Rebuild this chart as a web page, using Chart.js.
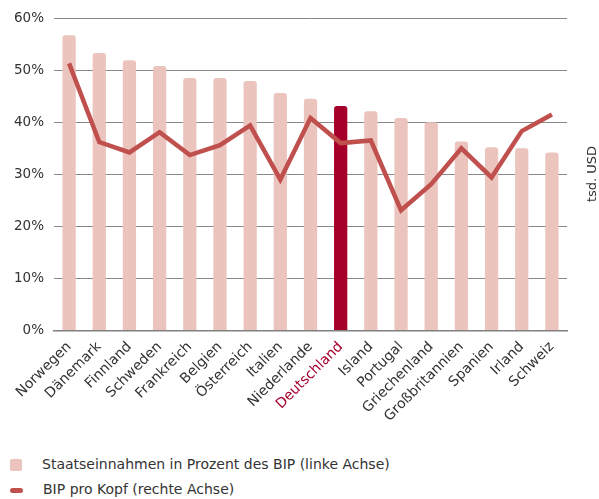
<!DOCTYPE html>
<html>
<head>
<meta charset="utf-8">
<script src="https://cdn.jsdelivr.net/npm/chart.js@4.4.1/dist/chart.umd.min.js"></script>
<style>
  body { margin: 0; background: #fff; font-family: "DejaVu Sans", Verdana, sans-serif; color: #333; }
  #wrap { position: relative; width: 599px; height: 425px; }
  .legend { position: absolute; left: 10px; font-size: 14px; color: #333; }
  .legend span.sym { display: inline-block; vertical-align: middle; margin-right: 20px; }
  .box { width: 12px; height: 12px; background: #ecc4be; border-radius: 2px; }
  .ln { width: 13px; height: 5px; background: #c0504d; border-radius: 3px; }
</style>
</head>
<body>
<div id="wrap"><canvas id="chart" width="599" height="425"></canvas></div>
<div class="legend" style="top:456px"><span class="sym box"></span>Staatseinnahmen in Prozent des BIP (linke Achse)</div>
<div class="legend" style="top:481px"><span class="sym ln"></span>BIP pro Kopf (rechte Achse)</div>
<script>
// Länder
const laender = ['Norwegen', 'Dänemark', 'Finnland', 'Schweden', 'Frankreich', 'Belgien', 'Österreich', 'Italien',
  'Niederlande', 'Deutschland', 'Island', 'Portugal', 'Griechenland', 'Großbritannien', 'Spanien', 'Irland', 'Schweiz'];

// Staatseinnahmen in % des BIP (linke Achse)
const einnahmen = [56.7, 53.3, 51.9, 50.8, 48.5, 48.5, 47.9, 45.6, 44.5, 43.1, 42.1, 40.8, 40.0, 36.3, 35.2, 35.0, 34.2];

// BIP pro Kopf in tsd. USD (rechte Achse)
const bipProKopf = [51.3, 36.2, 34.2, 38.1, 33.7, 35.6, 39.4, 29.0, 40.8, 36.0, 36.5, 23.1, 28.1, 35.0, 29.4, 38.3, 41.5];

const yTicks = [0, 10, 20, 30, 40, 50, 60];

const highlight = 'Deutschland';
const barColors = laender.map(l => l === highlight ? '#a5002a' : '#ecc4be');

// Achsentitel rechts (von unten nach oben)
const rightTitle = {
  id: 'rightTitle',
  afterDraw(chart) {
    const ctx = chart.ctx;
    ctx.save();
    ctx.translate(593, 174);
    ctx.rotate(-Math.PI / 2);
    ctx.font = '13px "DejaVu Sans"';
    ctx.fillStyle = '#333';
    ctx.textAlign = 'center';
    ctx.textBaseline = 'middle';
    ctx.fillText('tsd. USD', 0, 0);
    ctx.restore();
  }
};

new Chart(document.getElementById('chart'), {
  data: {
    labels: laender,
    datasets: [
      {
        type: 'line',
        label: 'BIP pro Kopf (rechte Achse)',
        data: bipProKopf,
        yAxisID: 'y1',
        borderColor: '#c0504d',
        borderWidth: 4.5,
        pointRadius: 0,
        tension: 0,
        order: 0
      },
      {
        type: 'bar',
        label: 'Staatseinnahmen in Prozent des BIP (linke Achse)',
        data: einnahmen,
        yAxisID: 'y',
        backgroundColor: barColors,
        borderRadius: { topLeft: 3, topRight: 3 },
        borderSkipped: 'bottom',
        barPercentage: 0.44,
        categoryPercentage: 1,
        order: 1
      }
    ]
  },
  options: {
    responsive: false,
    animation: false,
    layout: { padding: { top: 10, right: 32, left: 4 } },
    plugins: { legend: { display: false }, tooltip: { enabled: false } },
    font: { family: '"DejaVu Sans"' },
    scales: {
      x: {
        grid: { display: false },
        border: { color: '#808080', width: 1.5 },
        ticks: {
          maxRotation: 45,
          minRotation: 45,
          autoSkip: false,
          padding: 0,
          font: { family: '"DejaVu Sans"', size: 14 },
          color: ctx => laender[ctx.index] === highlight ? '#a5002a' : '#333'
        }
      },
      y: {
        min: 0,
        max: 60,
        afterBuildTicks: axis => { axis.ticks = yTicks.map(v => ({ value: v })); },
        grid: { color: '#888', drawTicks: false },
        border: { display: false },
        ticks: {
          padding: 10,
          font: { family: '"DejaVu Sans"', size: 13.5 },
          color: '#333',
          callback: v => v + '%'
        }
      },
      y1: {
        display: false,
        position: 'right',
        min: 0,
        max: 60
      }
    }
  },
  plugins: [rightTitle]
});
</script>
</body>
</html>
